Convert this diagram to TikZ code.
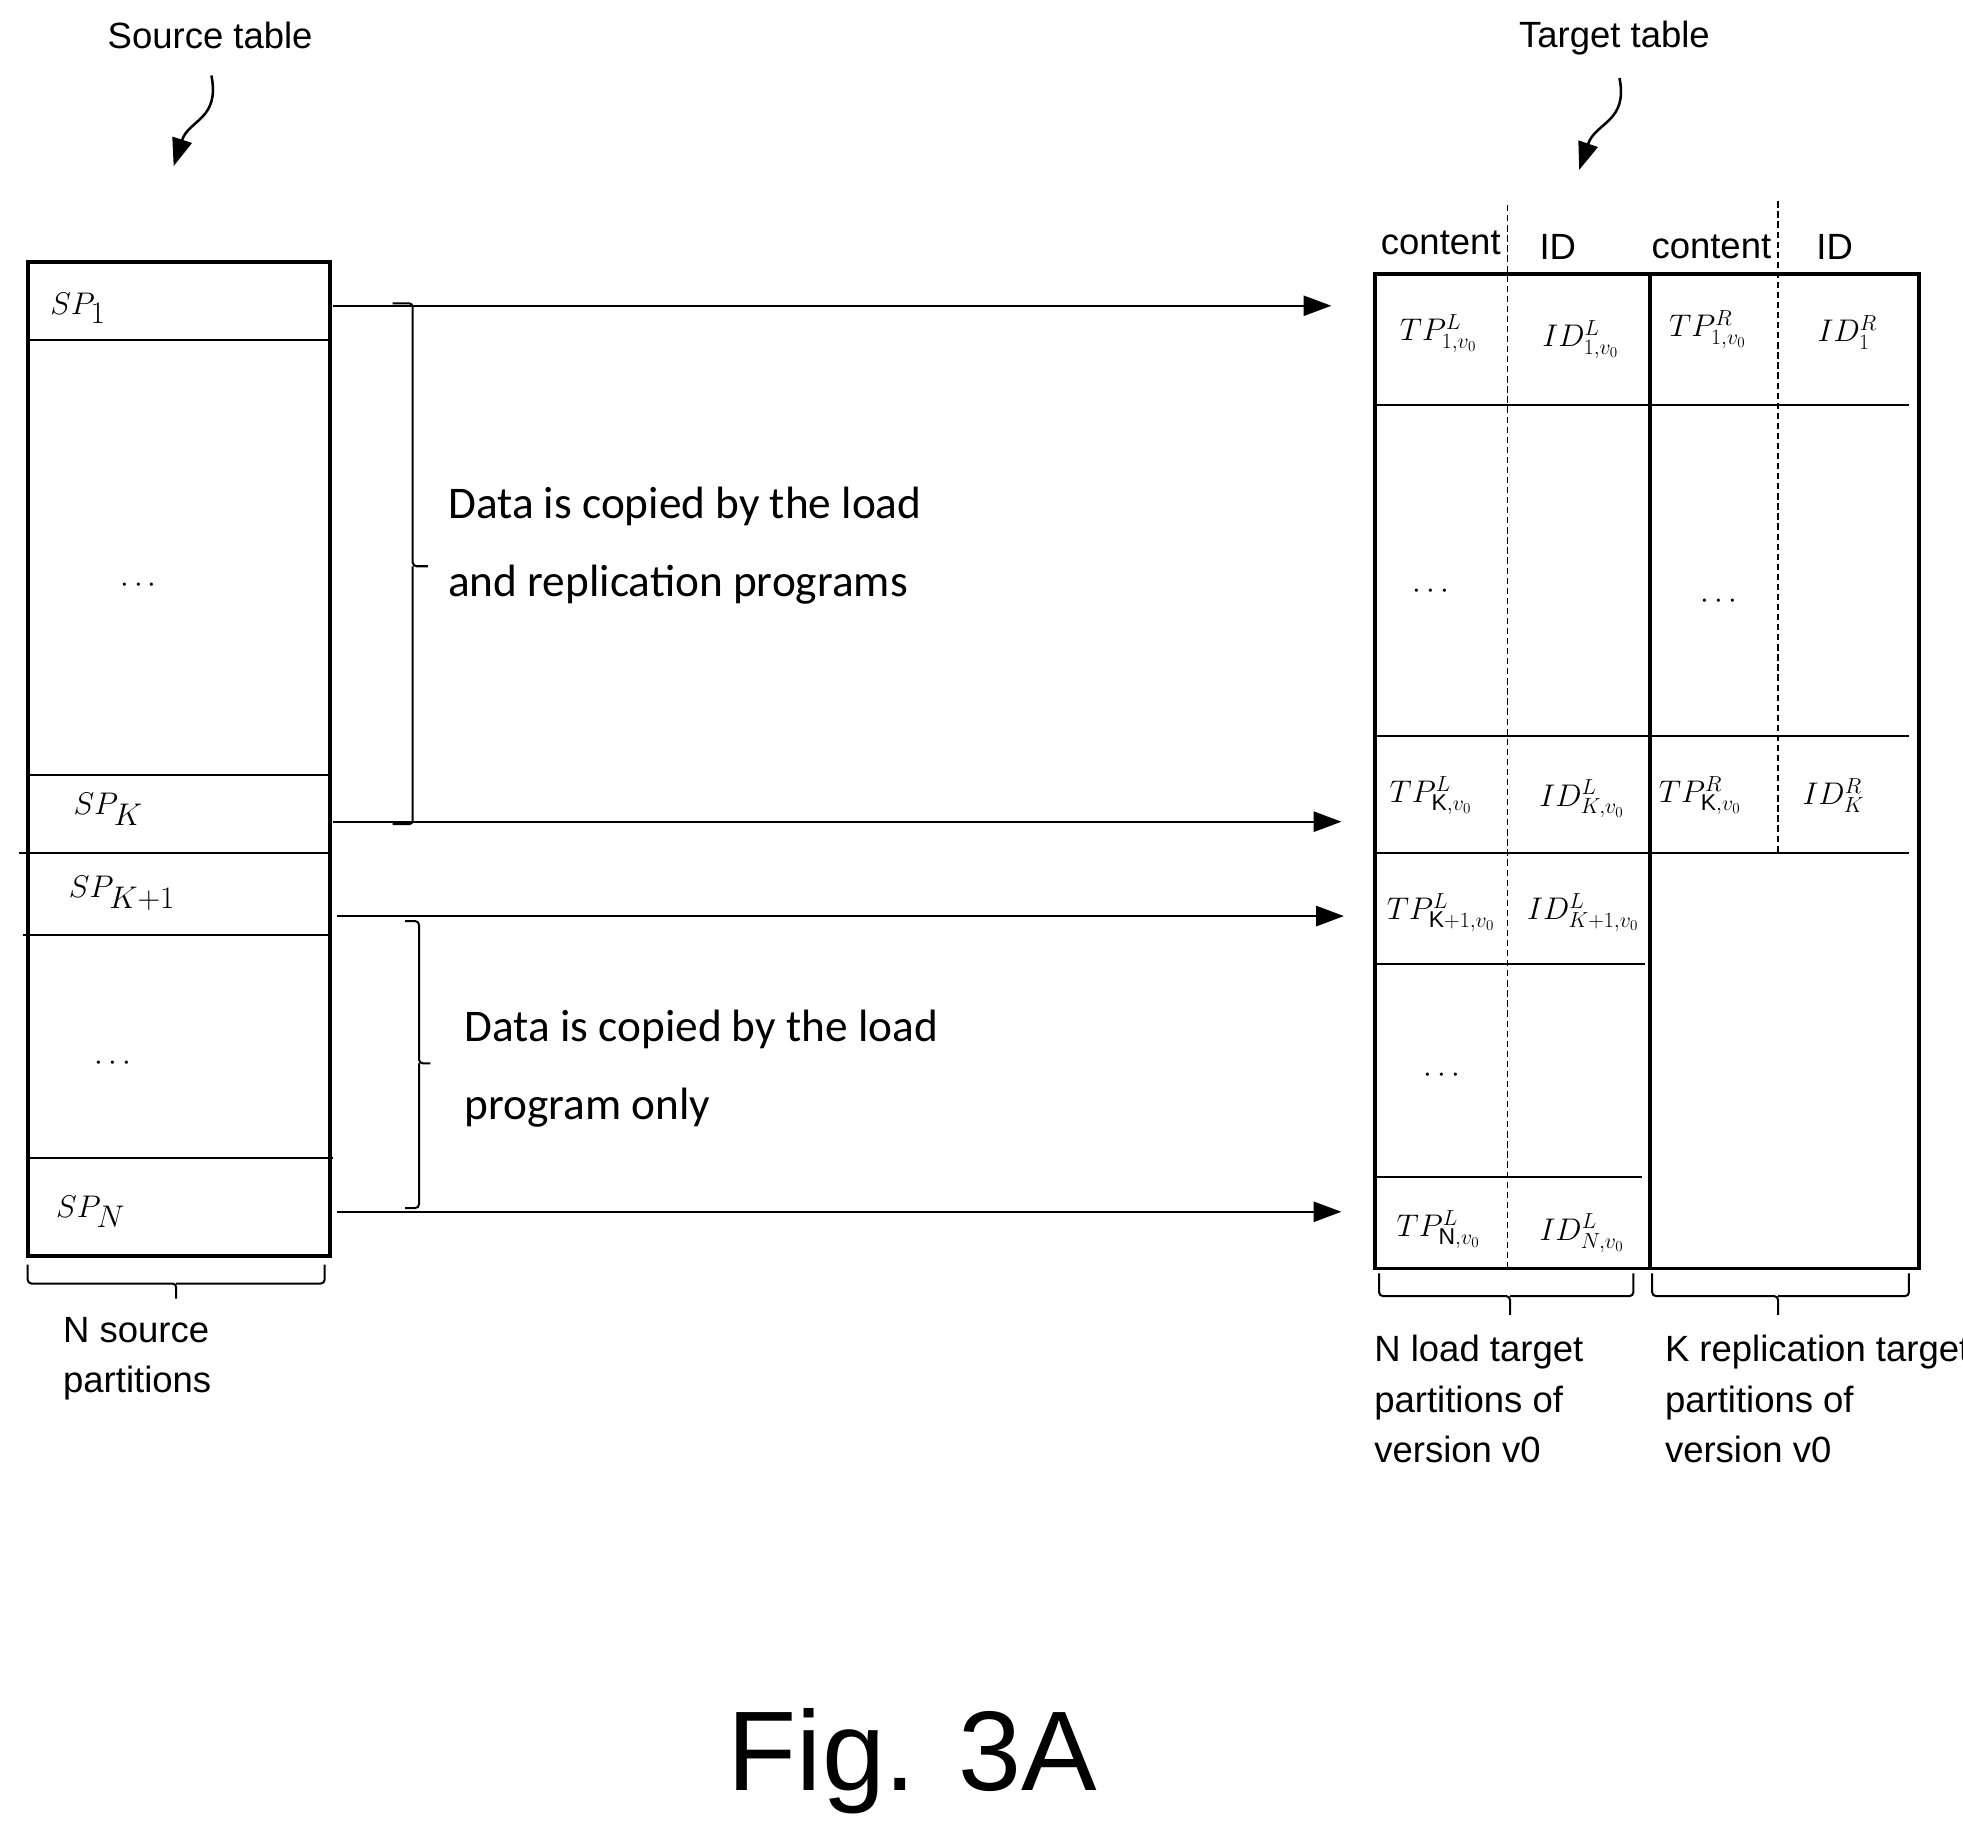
\documentclass[tikz,border=0pt]{standalone}
\usepackage{fontspec}
\setmainfont{Liberation Sans}
\newfontfamily\carfont{Carlito}
\usetikzlibrary{arrows.meta}
\begin{document}
\begin{tikzpicture}[x=1pt,y=-1pt,
  lbl/.style={font=\fontsize{29}{40}\selectfont,align=left,inner sep=0},
  big/.style={font=\carfont\fontsize{36}{62}\selectfont,align=left,inner sep=0,anchor=west},
  sp/.style={font=\fontsize{34}{40}\selectfont,inner sep=0},
  tp/.style={font=\fontsize{26}{30}\selectfont,inner sep=0},
  frame/.style={line width=3pt},
  thin/.style={line width=1.6pt},
  dashln/.style={line width=1.3pt,dash pattern=on 5pt off 3pt},
  arr/.style={line width=1.6pt,-{Triangle[length=22pt,width=16pt]}},
  brc/.style={line width=1.6pt,rounded corners=3pt}]
\useasboundingbox (0,0) rectangle (1560,1450);
% labels
\node[lbl] (src) at (167,28) {Source table};
\node[lbl] (tgt) at (1283,30) {Target table};
\coordinate (srcA) at (138,132);
\coordinate (tgtA) at (1255,135);
\draw[arr,line width=2pt] (168,60) .. controls (175,95) and (150,95) .. (srcA);
\draw[arr,line width=2pt] (1287,62) .. controls (1294,97) and (1268,97) .. (tgtA);
% source table
\draw[frame] (22,208) rectangle (262,998);
\draw[thin] (22,270)--(262,270) (22,616)--(262,616) (15,678)--(262,678) (18,743)--(262,743) (22,920)--(265,920);
\node[sp] (sp1) at (62,245) {$SP_1$};
\node[sp] (d1) at (110,465) {$\cdots$};
\node[sp] (spk) at (86,643) {$SP_K$};
\node[sp] (spk1) at (97,710) {$SP_{K+1}$};
\node[sp] (d2) at (90,845) {$\cdots$};
\node[sp] (spn) at (72,963) {$SP_N$};
\draw[brc] (22,1005)--(22,1020)--(140,1020)--(140,1032) (140,1020)--(258,1020)--(258,1005);
\node[lbl,anchor=west] (nsp) at (50,1080) {N source\\partitions};
% arrows
\coordinate (a1s) at (265,243); \coordinate (a1e) at (1058,243);
\coordinate (a2s) at (265,653); \coordinate (a2e) at (1066,653);
\coordinate (a3s) at (268,728); \coordinate (a3e) at (1068,728);
\coordinate (a4s) at (268,963); \coordinate (a4e) at (1066,963);
\draw[arr] (a1s)--(a1e); \draw[arr] (a2s)--(a2e);
\draw[arr] (a3s)--(a3e); \draw[arr] (a4s)--(a4e);
% braces
\draw[brc] (312,241)--(328,241)--(328,450)--(340,450) (328,450)--(328,655)--(312,655);
\draw[brc] (322,732)--(333,732)--(333,845)--(342,845) (333,845)--(333,960)--(322,960);
\node[big] (t1) at (356,434) {Data is copied by the load\\and replication programs};
\node[big] (t2) at (369,849) {Data is copied by the load\\program only};
% target table
\draw[frame] (1093,218) rectangle (1525,1008);
\draw[frame] (1311,218)--(1311,1008);
\draw[thin] (1093,322)--(1517,322) (1093,585)--(1517,585) (1093,678)--(1517,678) (1093,766)--(1307,766) (1093,935)--(1305,935);
\draw[dashln] (1198,163)--(1198,1008) (1413,160)--(1413,678);
\node[lbl] (h1) at (1145,193) {content};
\node[lbl] (h2) at (1238,196) {ID};
\node[lbl] (h3) at (1360,196) {content};
\node[lbl] (h4) at (1458,196) {ID};
\node[tp] (c1) at (1143,265) {$TP^L_{1,v_0}$};
\node[tp] (c2) at (1256,270) {$ID^L_{1,v_0}$};
\node[tp] (c3) at (1357,262) {$TP^R_{1,v_0}$};
\node[tp] (c4) at (1468,264) {$ID^R_1$};
\node[sp] (d3) at (1137,470) {$\cdots$};
\node[sp] (d4) at (1366,478) {$\cdots$};
\node[tp] (c5) at (1137,632) {$TP^L_{\mathrm{K},v_0}$};
\node[tp] (c6) at (1257,635) {$ID^L_{K,v_0}$};
\node[tp] (c7) at (1351,632) {$TP^R_{\mathrm{K},v_0}$};
\node[tp] (c8) at (1457,632) {$ID^R_K$};
\node[tp] (c9) at (1145,725) {$TP^L_{\mathrm{K}+1,v_0}$};
\node[tp] (c10) at (1258,725) {$ID^L_{K+1,v_0}$};
\node[sp] (d5) at (1146,855) {$\cdots$};
\node[tp] (c11) at (1143,977) {$TP^L_{\mathrm{N},v_0}$};
\node[tp] (c12) at (1257,980) {$ID^L_{N,v_0}$};
\draw[brc] (1096,1012)--(1096,1030)--(1200,1030)--(1200,1045) (1200,1030)--(1298,1030)--(1298,1012);
\draw[brc] (1313,1012)--(1313,1030)--(1413,1030)--(1413,1045) (1413,1030)--(1517,1030)--(1517,1012);
\node[lbl,anchor=west] (nl) at (1092,1112) {N load target\\partitions of\\version v0};
\node[lbl,anchor=west] (kr) at (1323,1112) {K replication target\\partitions of\\version v0};
\node[font=\fontsize{90}{100}\selectfont,inner sep=0] (fig) at (725,1400) {Fig. 3A};
\end{tikzpicture}
\end{document}
